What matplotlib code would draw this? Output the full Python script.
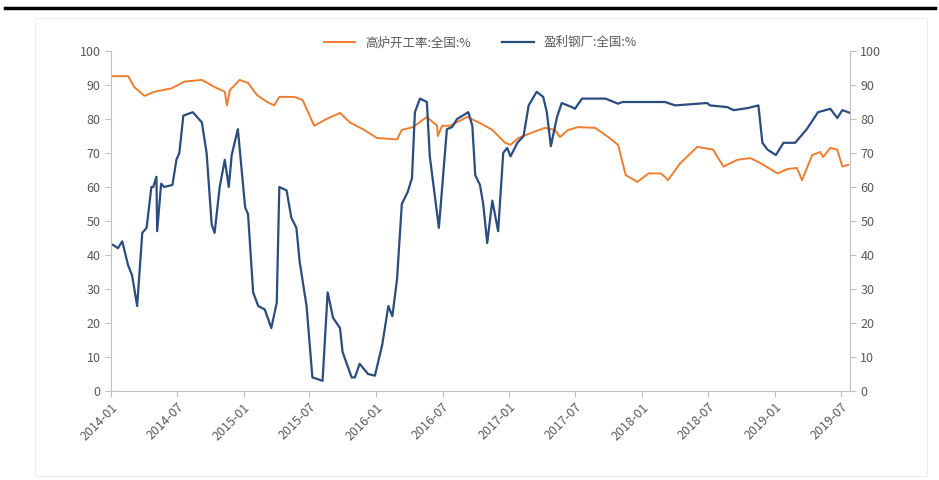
import numpy as np
import pandas as pd
import matplotlib
matplotlib.use('Agg')
import matplotlib.pyplot as plt
import matplotlib.dates as mdates
from matplotlib.patches import Rectangle
from matplotlib.lines import Line2D

plt.rcParams['font.family'] = ['Noto Sans CJK SC', 'DejaVu Sans']

# 高炉开工率:全国:%
gl_dates = ['2014-01-06', '2014-02-17', '2014-03-06', '2014-04-03', '2014-04-30', '2014-06-16',
            '2014-07-22', '2014-09-08', '2014-10-13', '2014-11-10', '2014-11-16', '2014-11-24',
            '2014-12-21', '2015-01-13', '2015-02-07', '2015-03-07', '2015-03-26', '2015-04-09',
            '2015-05-20', '2015-06-12', '2015-07-14', '2015-08-17', '2015-09-23', '2015-10-20',
            '2015-11-25', '2016-01-03', '2016-02-27', '2016-03-11', '2016-04-10', '2016-05-19',
            '2016-06-16', '2016-06-18', '2016-06-30', '2016-07-21', '2016-09-07', '2016-10-12',
            '2016-11-15', '2016-12-20', '2017-01-04', '2017-01-26', '2017-03-04', '2017-04-09',
            '2017-05-06', '2017-05-20', '2017-06-12', '2017-07-09', '2017-08-25', '2017-09-30',
            '2017-10-27', '2017-11-17', '2017-12-19', '2018-01-19', '2018-02-21', '2018-03-05',
            '2018-03-13', '2018-04-16', '2018-06-02', '2018-07-15', '2018-08-13', '2018-09-20',
            '2018-10-26', '2018-11-23', '2019-01-09', '2019-02-06', '2019-03-03', '2019-03-17',
            '2019-04-14', '2019-05-06', '2019-05-14', '2019-06-03', '2019-06-22', '2019-07-06',
            '2019-07-22']
gl_vals = [92.6, 92.6, 89.4, 86.8, 88.0, 89.0,
           91.0, 91.5, 89.4, 88.0, 84.0, 88.5,
           91.5, 90.6, 87.0, 85.0, 84.0, 86.5,
           86.5, 85.6, 78.0, 80.0, 81.8, 79.0,
           77.0, 74.4, 74.0, 76.8, 77.6, 80.6,
           78.0, 75.0, 78.0, 78.0, 80.6, 78.8,
           76.8, 73.0, 72.4, 74.4, 76.0, 77.4,
           76.8, 74.7, 76.8, 77.6, 77.4, 74.7,
           72.4, 63.5, 61.5, 64.0, 64.0, 63.0,
           62.0, 67.0, 71.8, 71.0, 66.0, 68.0,
           68.5, 67.0, 64.0, 65.3, 65.6, 62.0,
           69.4, 70.3, 68.8, 71.5, 71.0, 66.0,
           66.5]

# 盈利钢厂:全国:%
yl_dates = ['2014-01-06', '2014-01-20', '2014-02-01', '2014-02-17', '2014-02-28', '2014-03-14',
            '2014-03-28', '2014-04-09', '2014-04-22', '2014-04-27', '2014-05-06', '2014-05-08',
            '2014-05-19', '2014-05-27', '2014-06-19', '2014-06-30', '2014-07-08', '2014-07-19',
            '2014-08-14', '2014-09-08', '2014-09-21', '2014-10-05', '2014-10-13', '2014-10-27',
            '2014-11-10', '2014-11-21', '2014-11-29', '2014-12-16', '2015-01-05', '2015-01-13',
            '2015-01-27', '2015-02-10', '2015-02-28', '2015-03-18', '2015-04-02', '2015-04-09',
            '2015-04-29', '2015-05-12', '2015-05-26', '2015-06-04', '2015-06-23', '2015-07-09',
            '2015-08-06', '2015-08-20', '2015-09-04', '2015-09-23', '2015-09-30', '2015-10-25',
            '2015-11-03', '2015-11-16', '2015-12-09', '2015-12-28', '2016-01-17', '2016-02-03',
            '2016-02-14', '2016-02-27', '2016-03-11', '2016-03-27', '2016-04-08', '2016-04-16',
            '2016-04-30', '2016-05-19', '2016-05-27', '2016-06-21', '2016-07-13', '2016-07-27',
            '2016-08-10', '2016-09-10', '2016-09-21', '2016-09-29', '2016-10-12', '2016-10-21',
            '2016-11-01', '2016-11-15', '2016-12-01', '2016-12-15', '2016-12-26', '2017-01-04',
            '2017-01-23', '2017-02-09', '2017-02-23', '2017-03-17', '2017-04-04', '2017-04-14',
            '2017-04-25', '2017-05-12', '2017-05-25', '2017-06-22', '2017-06-30', '2017-07-20',
            '2017-09-22', '2017-10-27', '2017-11-08', '2018-03-05', '2018-04-02', '2018-06-29',
            '2018-07-07', '2018-08-23', '2018-09-10', '2018-10-18', '2018-11-17', '2018-11-28',
            '2018-12-12', '2019-01-04', '2019-01-25', '2019-02-26', '2019-03-30', '2019-04-30',
            '2019-06-03', '2019-06-22', '2019-07-06', '2019-07-27']
yl_vals = [43.0, 42.0, 44.0, 37.0, 34.0, 25.0,
           46.5, 48.0, 60.0, 60.0, 63.0, 47.0,
           61.0, 60.0, 60.6, 68.0, 70.0, 81.0,
           82.0, 79.0, 70.0, 49.0, 46.5, 60.0,
           68.0, 60.0, 69.4, 77.0, 54.0, 52.0,
           29.0, 25.0, 24.0, 18.5, 26.0, 60.0,
           59.0, 51.0, 48.0, 38.0, 25.0, 4.0,
           3.0, 29.0, 21.5, 18.5, 11.5, 4.0,
           4.0, 8.0, 5.0, 4.5, 13.5, 25.0,
           22.0, 33.0, 55.0, 58.5, 62.6, 82.0,
           86.0, 85.0, 69.0, 48.0, 77.0, 77.6,
           80.0, 82.0, 78.0, 63.5, 60.6, 55.0,
           43.5, 56.0, 47.0, 70.0, 71.5, 69.0,
           73.0, 75.0, 84.0, 88.0, 86.5, 82.0,
           72.0, 80.6, 84.7, 83.5, 83.0, 86.0,
           86.0, 84.5, 85.0, 85.0, 84.0, 84.7,
           84.0, 83.5, 82.6, 83.2, 84.0, 73.0,
           71.0, 69.4, 73.0, 73.0, 77.0, 82.0,
           83.0, 80.3, 82.6, 81.8]

tick_labels = ['2014-01', '2014-07', '2015-01', '2015-07', '2016-01', '2016-07', '2017-01',
               '2017-07', '2018-01', '2018-07', '2019-01', '2019-07']

orange = '#ED7D31'
blue = '#2B4C7E'
grey = '#BFBFBF'
txt = '#595959'

fig = plt.figure(figsize=(9.39, 4.8), dpi=100)
ax = fig.add_axes([111/939, 1 - 391/480, (850 - 111)/939, (391 - 51)/480])

x_gl = pd.to_datetime(gl_dates)
x_yl = pd.to_datetime(yl_dates)
ax.plot(x_gl, gl_vals, color=orange, lw=1.4, label='高炉开工率:全国:%')
ax.plot(x_yl, yl_vals, color=blue, lw=1.6, label='盈利钢厂:全国:%')

ax.set_xlim(pd.Timestamp('2014-01-01'), pd.Timestamp('2019-07-27'))
ax.set_ylim(0, 100)
ax.set_yticks(np.arange(0, 101, 10))
ticks = pd.to_datetime([t + '-01' for t in tick_labels])
ax.set_xticks(ticks)
ax.set_xticklabels(tick_labels, rotation=45, ha='right', rotation_mode='anchor')

ax2 = ax.twinx()
ax2.set_ylim(0, 100)
ax2.set_yticks(np.arange(0, 101, 10))

for a in (ax, ax2):
    for s in a.spines.values():
        s.set_visible(False)
    a.tick_params(colors=grey, labelcolor=txt, labelsize=9, length=4, width=0.8)
ax.spines['left'].set_visible(True)
ax.spines['bottom'].set_visible(True)
ax.spines['left'].set_color(grey)
ax.spines['bottom'].set_color(grey)
ax2.spines['right'].set_visible(True)
ax2.spines['right'].set_color(grey)
ax.tick_params(axis='x', pad=3)

ax.legend(loc='lower center', bbox_to_anchor=(0.5, 0.99), ncol=2, frameon=False,
          fontsize=9, labelcolor=txt, handlelength=2.5, columnspacing=2.5, borderaxespad=0)

# 外框与顶部粗线
fig.patches.append(Rectangle((35/939, 1 - 476/480), (927 - 35)/939, (476 - 18)/480,
                             transform=fig.transFigure, fill=False, ec='#EEEEEE', lw=0.8))
fig.lines.append(Line2D([5/939, 935/939], [1 - 8/480, 1 - 8/480], transform=fig.transFigure,
                        color='black', lw=2.5))

fig.savefig('out.png', dpi=100)
